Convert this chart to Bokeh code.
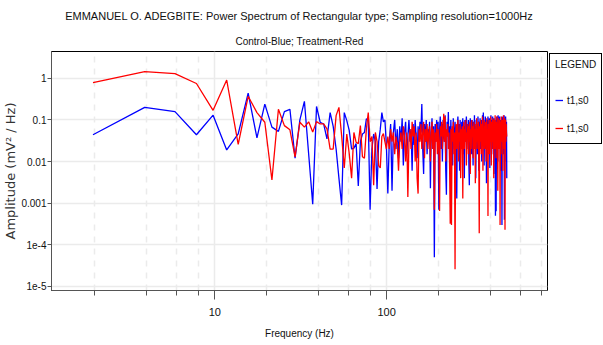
import numpy as np
from bokeh.plotting import figure
from bokeh.models import (FixedTicker, CustomJSTickFormatter, Legend, LegendItem,
                          Title, ColumnDataSource, Range1d)
from bokeh.embed import file_html
from bokeh.resources import INLINE

title_text = "EMMANUEL O. ADEGBITE: Power Spectrum of Rectangular type; Sampling resolution=1000Hz"
subtitle_text = "Control-Blue; Treatment-Red"
x_label = "Frequency (Hz)"
y_label = "Amplitude (mV\u00b2 / Hz)"

sampling_rate = 1000.0
n_fft = 512
n_bins = 256

x_major = [10, 100]
x_major_labels = ["10", "100"]
x_minor = [2, 4, 6, 8, 20, 40, 60, 80, 200, 400, 600, 800]
y_major = [1e-5, 1e-4, 1e-3, 1e-2, 1e-1, 1]
y_major_labels = ["1e-5", "1e-4", "0.001", "0.01", "0.1", "1"]

control_blue = [
    0.044, 0.20, 0.158, 0.044, 0.13, 0.019, 0.046, 0.44, 0.037, 0.24,
    0.067, 0.053, 0.158, 0.18, 0.012, 0.10, 0.28, 0.015, 0.00095, 0.21,
    0.088, 0.08, 0.035, 0.15, 0.07, 0.02, 0.004, 0.0009, 0.15, 0.096,
    0.056, 0.02, 0.021, 0.027, 0.0026, 0.03, 0.046, 0.05, 0.106, 0.1,
    0.0007, 0.02, 0.046, 0.03, 0.0022, 0.03, 0.06, 0.15, 0.09, 0.1,
    0.025, 0.0017, 0.03, 0.08, 0.002, 0.05, 0.1, 0.02, 0.06, 0.012,
    0.07, 0.03, 0.11, 0.008, 0.05, 0.09, 0.015, 0.04, 0.1, 0.03,
    0.06, 0.006, 0.08, 0.025, 0.1, 0.04, 0.012, 0.07, 0.03, 0.09,
    0.05, 0.24, 0.02, 0.005, 0.08, 0.03, 0.1, 0.015, 0.06, 0.04,
    0.09, 0.0023, 0.05, 0.11, 0.02, 0.07, 0.00005, 0.08, 0.03, 0.1,
    0.04, 0.09, 0.0007, 0.06, 0.12, 0.02, 0.08, 0.01, 0.1, 0.05,
    0.03, 0.13, 0.006, 0.0016, 0.09, 0.04, 0.155, 0.02, 0.07, 0.012,
    0.1, 0.03, 0.06, 0.008, 0.11, 0.04, 0.02, 0.09, 0.05, 0.01,
    0.0013, 0.07, 0.12, 0.03, 0.08, 0.006, 0.1, 0.04, 0.02, 0.09,
    0.05, 0.11, 0.015, 0.07, 0.004, 0.1, 0.03, 0.06, 0.12, 0.02,
    0.08, 0.04, 0.1, 0.009, 0.0027, 0.07, 0.11, 0.03, 0.06, 0.015,
    0.1, 0.05, 0.008, 0.09, 0.03, 0.13, 0.02, 0.07, 0.004, 0.1,
    0.04, 0.08, 0.015, 0.12, 0.05, 0.006, 0.09, 0.03, 0.11, 0.02,
    0.07, 0.1, 0.01, 0.06, 0.13, 0.03, 0.15, 0.04, 0.008, 0.09,
    0.05, 0.12, 0.02, 0.08, 0.003, 0.1, 0.04, 0.07, 0.12, 0.02,
    0.09, 0.05, 0.11, 0.007, 0.096, 0.03, 0.13, 0.06, 0.015, 0.1,
    0.04, 0.12, 0.02, 0.08, 0.005, 0.11, 0.03, 0.09, 0.06, 0.0005,
    0.1, 0.00064, 0.07, 0.12, 0.03, 0.09, 0.01, 0.13, 0.05, 0.08,
    0.02, 0.11, 0.12, 0.04, 0.09, 0.006, 0.1, 0.03, 0.08, 0.0003,
    0.12, 0.05, 0.09, 0.015, 0.11, 0.04, 0.13, 0.0004, 0.07, 0.1,
    0.03, 0.12, 0.06, 0.01, 0.09, 0.004,
]

treatment_red = [
    0.79, 1.44, 1.3, 0.75, 0.17, 0.91, 0.026, 0.37, 0.15, 0.088,
    0.0036, 0.18, 0.073, 0.058, 0.013, 0.088, 0.067, 0.09, 0.051, 0.091,
    0.08, 0.08, 0.061, 0.02, 0.02, 0.127, 0.2, 0.042, 0.007, 0.046,
    0.0155, 0.004, 0.05, 0.029, 0.027, 0.073, 0.013, 0.012, 0.061, 0.15,
    0.03, 0.04, 0.0027, 0.05, 0.03, 0.008, 0.007, 0.04, 0.047, 0.03,
    0.02, 0.04, 0.02, 0.06, 0.03, 0.05, 0.015, 0.04, 0.025, 0.006,
    0.03, 0.05, 0.02, 0.07, 0.04, 0.01, 0.05, 0.0014, 0.03, 0.06,
    0.02, 0.09, 0.04, 0.07, 0.01, 0.05, 0.004, 0.0017, 0.06, 0.03,
    0.08, 0.02, 0.05, 0.09, 0.012, 0.06, 0.03, 0.08, 0.02, 0.05,
    0.07, 0.01, 0.04, 0.09, 0.02, 0.06, 0.0007, 0.05, 0.03, 0.08,
    0.015, 0.06, 0.03, 0.00065, 0.07, 0.04, 0.09, 0.02, 0.05, 0.14,
    0.03, 0.12, 0.01, 0.06, 0.04, 0.08, 0.02, 0.05, 0.007, 0.00032,
    0.06, 0.0003, 0.07, 0.03, 0.09, 0.015, 0.05, 0.000026, 0.04, 0.08,
    0.02, 0.06, 0.1, 0.01, 0.05, 0.03, 0.08, 0.004, 0.06, 0.02,
    0.07, 0.0013, 0.05, 0.09, 0.02, 0.06, 0.03, 0.1, 0.008, 0.05,
    0.04, 0.08, 0.015, 0.07, 0.03, 0.09, 0.005, 0.06, 0.02, 0.1,
    0.04, 0.07, 0.012, 0.05, 0.09, 0.02, 0.06, 0.003, 0.08, 0.03,
    0.11, 0.02, 0.06, 0.04, 0.09, 0.01, 0.00019, 0.07, 0.03, 0.1,
    0.05, 0.015, 0.08, 0.03, 0.12, 0.006, 0.06, 0.04, 0.1, 0.02,
    0.07, 0.03, 0.09, 0.01, 0.05, 0.11, 0.02, 0.06, 0.00049, 0.08,
    0.04, 0.1, 0.015, 0.07, 0.03, 0.12, 0.05, 0.008, 0.09, 0.02,
    0.06, 0.11, 0.03, 0.08, 0.004, 0.1, 0.05, 0.02, 0.13, 0.04,
    0.07, 0.012, 0.09, 0.03, 0.12, 0.06, 0.002, 0.08, 0.04, 0.11,
    0.02, 0.07, 0.1, 0.0003, 0.05, 0.09, 0.015, 0.12, 0.04, 0.08,
    0.03, 0.1, 0.006, 0.07, 0.13, 0.04, 0.09, 0.02, 0.11, 0.00023,
    0.06, 0.1, 0.03, 0.08, 0.05, 0.04,
]

# frequency bins (k * fs / N) for the plotted spectrum
freq = np.arange(1, n_bins + 1) * sampling_rate / n_fft

SANS = "Liberation Sans"

p = figure(x_axis_type="log", y_axis_type="log",
           x_range=Range1d(1.12, 863), y_range=Range1d(8e-6, 4.4),
           frame_width=496, frame_height=239,
           min_border_left=0, min_border_top=0, min_border_bottom=0,
           min_border_right=0,
           output_backend="svg", toolbar_location=None, title=None)

p.background_fill_color = "white"
p.border_fill_color = "white"
p.outline_line_color = "black"
p.outline_line_width = 1

src = ColumnDataSource(dict(f=freq, blue=control_blue, red=treatment_red))
rb = p.line("f", "blue", source=src, line_color="#0000ff", line_width=1.3)
rr = p.line("f", "red", source=src, line_color="#ff0000", line_width=1.3)

# ticks
xt = FixedTicker(ticks=x_major, minor_ticks=x_minor)
yt = FixedTicker(ticks=y_major, minor_ticks=[])
p.xaxis.ticker = xt
p.yaxis.ticker = yt
p.xgrid.ticker = xt
p.ygrid.ticker = yt

fmt_code = """
let best = 0, bd = Infinity;
for (let i = 0; i < tv.length; i++) {
  const d = Math.abs(Math.log10(tick) - Math.log10(tv[i]));
  if (d < bd) { bd = d; best = i; }
}
return labs[best];
"""
p.xaxis.formatter = CustomJSTickFormatter(args=dict(tv=x_major, labs=x_major_labels), code=fmt_code)
p.yaxis.formatter = CustomJSTickFormatter(args=dict(tv=y_major, labs=y_major_labels), code=fmt_code)

for ax in (p.xaxis[0], p.yaxis[0]):
    ax.axis_line_color = "#555555"
    ax.major_tick_line_color = "#555555"
    ax.minor_tick_line_color = "#555555"
    ax.major_tick_in = 0
    ax.minor_tick_in = 0
    ax.major_label_text_font = SANS
    ax.major_label_text_color = "#111111"
    ax.axis_label_text_font_style = "normal"
    ax.axis_label_text_color = "#111111"

p.xaxis.major_label_text_font_size = "11px"
p.xaxis.major_tick_out = 9
p.xaxis.minor_tick_out = 5
p.xaxis.major_label_standoff = 8
p.xaxis.axis_label = x_label
p.xaxis.axis_label_text_font = SANS
p.xaxis.axis_label_text_font_size = "10px"
p.xaxis.axis_label_standoff = 9

p.yaxis.major_label_text_font_size = "10px"
p.yaxis.major_tick_out = 4
p.yaxis.minor_tick_line_color = None
p.yaxis.major_label_standoff = 1
p.yaxis.axis_label = y_label
p.yaxis.axis_label_text_font = "DejaVu Sans"
p.yaxis.axis_label_text_font_size = "13px"
p.yaxis.axis_label_text_color = "#333333"
p.yaxis.axis_label_standoff = 0

p.xgrid.grid_line_color = "#ebebeb"
p.xgrid.grid_line_width = 1.5
p.xgrid.minor_grid_line_color = "#ebebeb"
p.xgrid.minor_grid_line_width = 1.5
p.xgrid.minor_grid_line_dash = "6 6"
p.ygrid.grid_line_color = "#ebebeb"
p.ygrid.grid_line_width = 1.5

legend = Legend(items=[LegendItem(label="t1,s0", renderers=[rb]),
                       LegendItem(label="t1,s0", renderers=[rr])],
                title="LEGEND", location="top_left")
legend.margin = 2
legend.padding = 5
legend.spacing = 8
legend.glyph_width = 8
legend.glyph_height = 20
legend.label_height = 20
legend.label_standoff = 4
legend.title_standoff = 20
legend.border_line_color = "black"
legend.border_line_alpha = 1
legend.border_line_width = 1
legend.background_fill_alpha = 1
legend.label_text_font = SANS
legend.label_text_font_size = "10px"
legend.label_text_color = "#111111"
legend.title_text_font = SANS
legend.title_text_font_size = "10px"
legend.title_text_font_style = "normal"
legend.title_text_color = "#111111"
p.add_layout(legend, "right")

sub = Title(text=subtitle_text, align="center", text_font=SANS,
            text_font_size="10px", text_font_style="normal",
            text_color="#111111", standoff=9)
main = Title(text=title_text, align="center", text_font=SANS,
             text_font_size="11px", text_font_style="normal",
             text_color="#111111", standoff=15)
p.add_layout(sub, "above")
p.add_layout(main, "above")

open("out.html", "w").write(file_html(p, INLINE))
